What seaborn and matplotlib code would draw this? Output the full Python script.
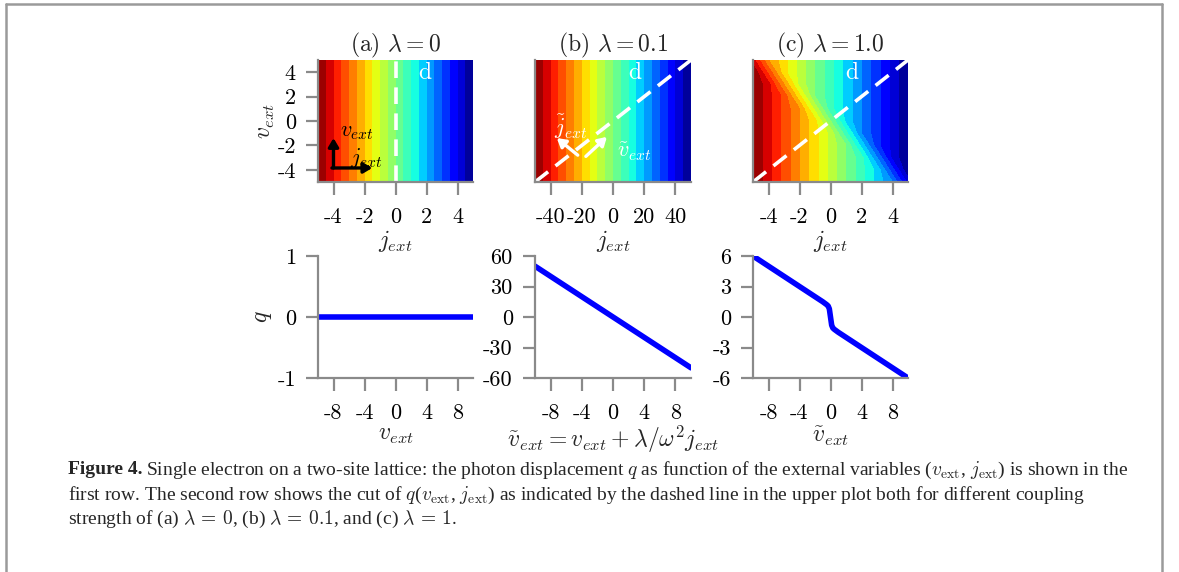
import numpy as np
import matplotlib
matplotlib.use("Agg")
import matplotlib.pyplot as plt
import seaborn as sns
from matplotlib.lines import Line2D

# ---------------- data ----------------
titles = [r"(a) $\lambda = 0$", r"(b) $\lambda = 0.1$", r"(c) $\lambda = 1.0$"]

# top row: q(j_ext, v_ext) fields
j_a = [-5, -4, -3, -2, -1, 0, 1, 2, 3, 4, 5]
q_a_row = [5, 4, 3, 2, 1, 0, -1, -2, -3, -4, -5]
v_ab = [-5, 5]

j_b = [-50, -40, -30, -20, -10, 0, 10, 20, 30, 40, 50]
q_b_row = [50, 40, 30, 20, 10, 0, -10, -20, -30, -40, -50]

j_c = [-5, -4, -3, -2, -1, 0, 1, 2, 3, 4, 5]
v_c = [-5, -4, -3, -2, -1, 0, 1, 2, 3, 4, 5]
q_c = [  # rows: v_ext = -5 ... 5, columns: j_ext = -5 ... 5
    [6, 5, 4, 3, 2, 1, 0, -1, -2, -3, -5],
    [6, 5, 4, 3, 2, 1, 0, -1, -2, -4, -6],
    [6, 5, 4, 3, 2, 1, 0, -1, -3, -5, -6],
    [6, 5, 4, 3, 2, 1, 0, -2, -4, -5, -6],
    [6, 5, 4, 3, 2, 1, -1, -3, -4, -5, -6],
    [6, 5, 4, 3, 2, 0, -2, -3, -4, -5, -6],
    [6, 5, 4, 3, 1, -1, -2, -3, -4, -5, -6],
    [6, 5, 4, 2, 0, -1, -2, -3, -4, -5, -6],
    [6, 5, 3, 1, 0, -1, -2, -3, -4, -5, -6],
    [6, 4, 2, 1, 0, -1, -2, -3, -4, -5, -6],
    [5, 3, 2, 1, 0, -1, -2, -3, -4, -5, -6],
]

# dashed cut lines "d" (j_ext, v_ext end points)
cut_j = [[0, 0], [-50, 50], [-5, 5]]
cut_v = [[-5, 5], [-5, 5], [-5, 5]]

# bottom row: cuts q along d
vt_a = [-10, 10]
q_cut_a = [0, 0]
vt_b = [-10, -5, 0, 5, 10]
q_cut_b = [50, 25, 0, -25, -50]
vt_c = [-10, -8, -6, -4, -2, -1, -0.5, -0.3, -0.15, 0, 0.15, 0.3, 0.5, 1, 2, 4, 6, 8, 10]
q_cut_c = [6, 5, 4, 3, 2, 1.5, 1.22, 1.08, 0.8, 0, -0.8, -1.08, -1.22, -1.5, -2, -3, -4, -5, -6]

top_xticks = [[-4, -2, 0, 2, 4], [-40, -20, 0, 20, 40], [-4, -2, 0, 2, 4]]
top_yticks = [4, 2, 0, -2, -4]
bot_xticks = [-8, -4, 0, 4, 8]
bot_yticks = [[1, 0, -1], [60, 30, 0, -30, -60], [6, 3, 0, -3, -6]]
bot_ylims = [(-1, 1), (-60, 60), (-6, 6)]
q_ranges = [(-5, 5), (-50, 50), (-6, 6)]
x_labels_bottom = [r"$v_{ext}$", r"$\tilde{v}_{ext} = v_{ext} + \lambda/\omega^2 j_{ext}$", r"$\tilde{v}_{ext}$"]

# ---------------- style ----------------
sns.set_style("ticks")
plt.rcParams["font.family"] = ["cmr10", "DejaVu Serif"]
plt.rcParams["mathtext.fontset"] = "cm"
plt.rcParams["axes.formatter.use_mathtext"] = True

W, H = 1179, 572
fig = plt.figure(figsize=(W / 100, H / 100), dpi=100)
GRAY = "#8a8a8a"
FS = 16

def px_axes(x0, x1, y0, y1):
    return fig.add_axes([x0 / W, 1 - y1 / H, (x1 - x0) / W, (y1 - y0) / H])

lefts = [318, 535, 753]
widths = [155, 156, 155]

def style(ax):
    sns.despine(ax=ax)
    for s in ("left", "bottom"):
        ax.spines[s].set_color(GRAY)
        ax.spines[s].set_linewidth(1.6)
    ax.tick_params(length=9, width=1.6, color=GRAY, labelsize=FS, labelcolor="black")
    ax.tick_params(axis="x", pad=9)
    ax.tick_params(axis="y", pad=7)

def lab(v):
    return str(v).replace("\u2212", "-")

# ---------------- top row ----------------
fields = [
    (j_a, v_ab, np.vstack([q_a_row, q_a_row])),
    (j_b, v_ab, np.vstack([q_b_row, q_b_row])),
    (j_c, v_c, np.array(q_c)),
]
top_axes = []
for i in range(3):
    ax = px_axes(lefts[i], lefts[i] + widths[i], 60, 182)
    jj, vv, qq = fields[i]
    lo, hi = q_ranges[i]
    levels = np.linspace(lo, hi, 21)
    ax.contourf(jj, vv, qq, levels=levels, cmap="jet", extend="both")
    ax.plot(cut_j[i], cut_v[i], color="white", lw=2.6, dashes=(4.6, 2.6), solid_capstyle="butt")
    ax.set_xlim(min(jj), max(jj))
    ax.set_ylim(-5, 5)
    ax.set_xticks(top_xticks[i])
    ax.set_xticklabels([lab(t) for t in top_xticks[i]])
    ax.set_yticks(top_yticks)
    if i == 0:
        ax.set_yticklabels([lab(t) for t in top_yticks])
        ax.set_ylabel(r"$v_{ext}$", fontsize=FS + 1, labelpad=0)
    ax.set_xlabel(r"$j_{ext}$", fontsize=FS + 1, labelpad=1)
    ax.set_title(titles[i], fontsize=FS + 1, pad=6)
    style(ax)
    if i != 0:
        ax.tick_params(axis="y", left=False, labelleft=False)
    top_axes.append(ax)

# "d" labels
d_pos = [(1.9, 3.9), (14, 3.9), (1.4, 3.9)]
for ax, (x, y) in zip(top_axes, d_pos):
    ax.text(x, y, "d", color="white", fontsize=FS + 1, ha="center", va="center")

# arrows in (a)
ax = top_axes[0]
arrow_k = dict(arrowstyle="-|>,head_length=0.5,head_width=0.3", color="black", lw=2.4, shrinkA=0, shrinkB=0)
ax.annotate("", xy=(-4, -1.4), xytext=(-4, -3.85), arrowprops=arrow_k)
ax.annotate("", xy=(-1.5, -3.85), xytext=(-4.1, -3.85), arrowprops=arrow_k)
ax.text(-2.5, -0.9, r"$v_{ext}$", fontsize=FS, ha="center", va="center", color="black")
ax.text(-1.9, -3.0, r"$j_{ext}$", fontsize=FS, ha="center", va="center", color="black")

# arrows in (b)
ax = top_axes[1]
arrow_w = dict(arrowstyle="-|>,head_length=0.5,head_width=0.3", color="white", lw=2.4, shrinkA=0, shrinkB=0)
ax.annotate("", xy=(-36, -1.4), xytext=(-22.6, -2.8), arrowprops=arrow_w)
ax.annotate("", xy=(-3.9, -1.3), xytext=(-17.4, -2.9), arrowprops=arrow_w)
ax.text(-27, -0.5, r"$\tilde{j}_{ext}$", fontsize=FS, ha="center", va="center", color="white")
ax.text(14, -2.5, r"$\tilde{v}_{ext}$", fontsize=FS, ha="center", va="center", color="white")

# ---------------- bottom row ----------------
cuts = [(vt_a, q_cut_a), (vt_b, q_cut_b), (vt_c, q_cut_c)]
for i in range(3):
    ax = px_axes(lefts[i], lefts[i] + widths[i], 256, 378)
    x, y = cuts[i]
    sns.lineplot(x=x, y=y, ax=ax, color="#0000ff", lw=4, sort=False, estimator=None)
    ax.set_xlim(-10, 10)
    ax.set_ylim(*bot_ylims[i])
    ax.set_xticks(bot_xticks)
    ax.set_xticklabels([lab(t) for t in bot_xticks])
    ax.set_yticks(bot_yticks[i])
    ax.set_yticklabels([lab(t) for t in bot_yticks[i]])
    ax.set_xlabel(x_labels_bottom[i], fontsize=FS + 1, labelpad=1)
    if i == 0:
        ax.set_ylabel(r"$q$", fontsize=FS + 1, labelpad=2)
    style(ax)

# ---------------- frame & caption ----------------
fig.add_artist(Line2D([6 / W, 6 / W], [0, 1 - 4 / H], color="#9a9a9a", lw=1.8))
fig.add_artist(Line2D([1162 / W, 1162 / W], [0, 1 - 4 / H], color="#9a9a9a", lw=1.8))
fig.add_artist(Line2D([6 / W, 1162 / W], [1 - 4 / H, 1 - 4 / H], color="#9a9a9a", lw=1.8))

cap_font = ["Liberation Serif", "DejaVu Serif"]
cap_fs = 14.0
lines = [
    r"Single electron on a two-site lattice: the photon displacement $q$ as function of the external variables ($v_{\rm ext}$, $j_{\rm ext}$) is shown in the",
    r"first row. The second row shows the cut of $q$($v_{\rm ext}$, $j_{\rm ext}$) as indicated by the dashed line in the upper plot both for different coupling",
    r"strength of (a) $\lambda\,=\,0$, (b) $\lambda\,=\,0.1$, and (c) $\lambda\,=\,1$.",
]
ys = [470, 495, 519]
t0 = fig.text(68 / W, 1 - ys[0] / H, "Figure 4.", fontsize=cap_fs, fontweight="bold",
              family=cap_font, va="center", ha="left")
fig.canvas.draw()
bb = t0.get_window_extent()
fig.text((bb.x1 + 3) / W, 1 - ys[0] / H, lines[0], fontsize=cap_fs, family=cap_font, va="center", ha="left")
for k in (1, 2):
    fig.text(68 / W, 1 - ys[k] / H, lines[k], fontsize=cap_fs, family=cap_font, va="center", ha="left")

fig.savefig("out.png", dpi=100)
